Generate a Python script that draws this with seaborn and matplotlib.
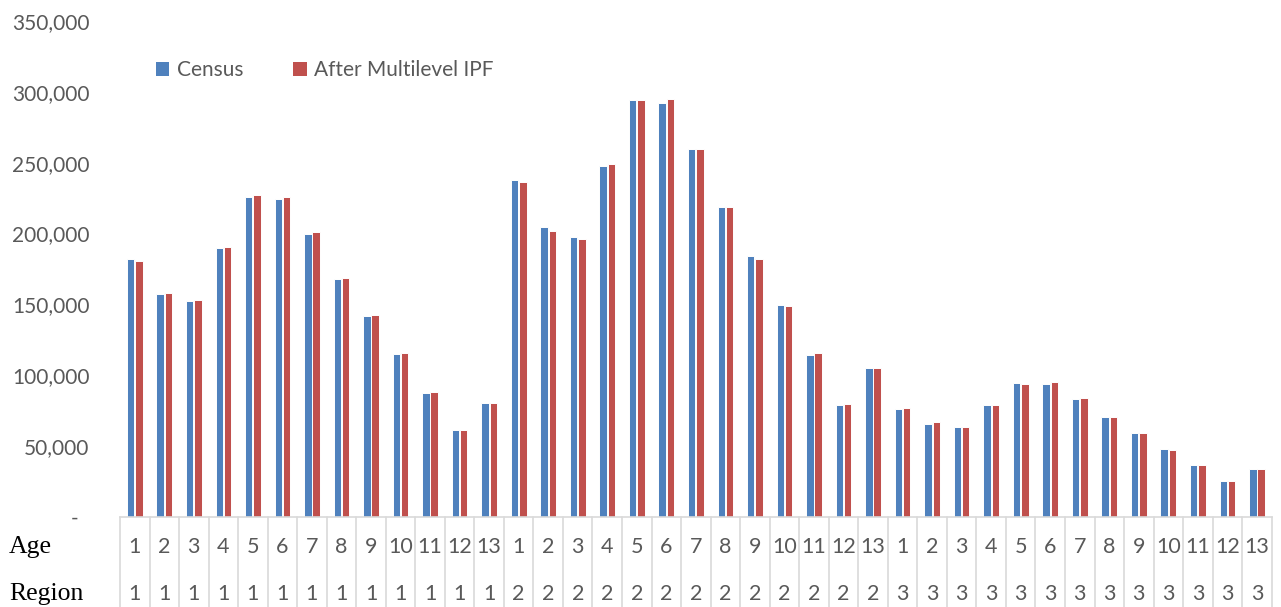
import matplotlib
matplotlib.use("Agg")
import matplotlib.pyplot as plt
import matplotlib.transforms as mtransforms
from matplotlib.patches import Patch
from matplotlib.ticker import FuncFormatter
import pandas as pd
import seaborn as sns

# Population by age group (1-13) within each of the three regions
ages = list(range(1, 14)) * 3
regions = [1] * 13 + [2] * 13 + [3] * 13

census = [
    182100, 157200, 152100, 190100, 225800, 224700, 199500, 168200, 141500, 114900, 87800, 61100, 80400,
    237600, 204500, 197900, 247500, 294000, 292300, 259400, 218600, 184000, 149500, 114400, 79200, 105000,
    75900, 65300, 63400, 79200, 94500, 93800, 83200, 70300, 59000, 47900, 36400, 25200, 33600,
]
after_ipf = [
    180500, 158400, 153200, 190400, 227200, 225600, 200900, 168900, 142400, 115600, 88300, 61100, 80400,
    236200, 201600, 196500, 249400, 294500, 294700, 259900, 219000, 182100, 149200, 115400, 79700, 105000,
    76800, 66700, 63700, 78700, 93800, 95000, 83700, 70300, 59000, 47400, 36400, 25200, 33600,
]
series_names = ["Census", "After Multilevel IPF"]
series_colors = ["#4F81BD", "#C0504D"]
yticks = [0, 50000, 100000, 150000, 200000, 250000, 300000, 350000]
row_labels = ["Age", "Region"]

cells = [f"{r}-{a}" for r, a in zip(regions, ages)]
df = pd.concat([
    pd.DataFrame({"cell": cells, "population": census, "series": series_names[0]}),
    pd.DataFrame({"cell": cells, "population": after_ipf, "series": series_names[1]}),
])

sns.set_theme(style="white")
plt.rcParams["font.family"] = ["Lato", "DejaVu Sans"]
text_gray = "#595959"
line_gray = "#D9D9D9"

W, H = 1281, 607
fig = plt.figure(figsize=(W / 100, H / 100), dpi=100)
ax_left, ax_right, ax_top, ax_bottom = 120, 1271.7, 21, 517
ax = fig.add_axes([ax_left / W, 1 - ax_bottom / H, (ax_right - ax_left) / W, (ax_bottom - ax_top) / H])

sns.barplot(
    data=df, x="cell", y="population", hue="series",
    order=cells, hue_order=series_names, palette=series_colors, saturation=1,
    width=0.56, gap=0.1, edgecolor="white", linewidth=0.7,
    errorbar=None, legend=False, ax=ax,
)

ax.set_xlim(-0.5, len(cells) - 0.5)
ax.set_ylim(0, 350000)
ax.set_yticks(yticks)
ax.yaxis.set_major_formatter(FuncFormatter(lambda v, _: f"{v:,.0f}" if v else "-  "))
ax.tick_params(axis="y", length=0, pad=22, labelsize=15, labelcolor=text_gray)
ax.tick_params(axis="x", length=0, labelbottom=False)
ax.set_xlabel("")
ax.set_ylabel("")
for side in ["top", "right", "left"]:
    ax.spines[side].set_visible(False)
ax.spines["bottom"].set_color(line_gray)
ax.spines["bottom"].set_linewidth(1.2)

# Category table under the bars: one column per age/region cell
blend = mtransforms.blended_transform_factory(ax.transData, fig.transFigure)
y_axis = 1 - ax_bottom / H
for k in range(len(cells) + 1):
    ax.plot([k - 0.5, k - 0.5], [y_axis, 0], transform=blend, color=line_gray,
            lw=1.2, clip_on=False)
y_age = 1 - 547 / H
y_region = 1 - 594 / H
for i, (a, r) in enumerate(zip(ages, regions)):
    ax.text(i, y_age, str(a), transform=blend, ha="center", va="center",
            fontsize=15.5, color=text_gray)
    ax.text(i, y_region, str(r), transform=blend, ha="center", va="center",
            fontsize=15.5, color=text_gray)
for label, y in zip(row_labels, [y_age, y_region]):
    fig.text(9 / W, y, label, ha="left", va="center", fontsize=18.5,
             color="black", family=["Liberation Serif"])

handles = [Patch(facecolor=c, edgecolor="none") for c in series_colors]
fig.legend(handles, series_names, loc="center left",
           bbox_to_anchor=(137 / W, 1 - 70 / H), ncol=2, frameon=False,
           fontsize=15, labelcolor=text_gray, handlelength=0.65, handleheight=0.65,
           handletextpad=0.35, columnspacing=2.4)

fig.savefig("out.png", dpi=100)
